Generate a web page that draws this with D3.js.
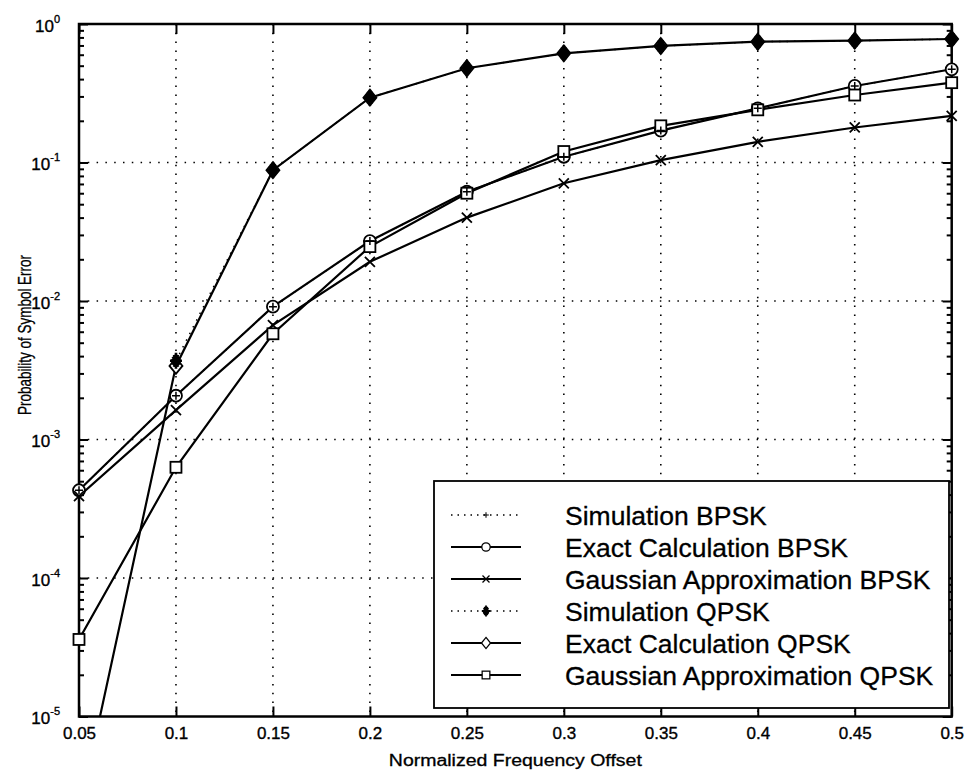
<!DOCTYPE html>
<html lang="en">
<head>
    <meta charset="UTF-8">
    <title>Probability of Symbol Error vs Normalized Frequency Offset</title>
    <script src="https://d3js.org/d3.v7.min.js"></script>
    <style>
        body { margin: 0; background: #fff; }
        svg { font-family: "Liberation Sans", Arial, sans-serif; }
        .tick text { fill: #000; }
    </style>
</head>
<body>
    <div id="chart"></div>
    <script>
        // Data
        const offsets = [0.05, 0.1, 0.15, 0.2, 0.25, 0.3, 0.35, 0.4, 0.45, 0.5];
        const simBPSK   = [4.3e-4, 2.07e-3, 9.1e-3, 0.0271, 0.0615, 0.110, 0.170, 0.246, 0.357, 0.471];
        const exactBPSK = [4.3e-4, 2.07e-3, 9.1e-3, 0.0271, 0.0615, 0.110, 0.170, 0.246, 0.357, 0.471];
        const gaussBPSK = [3.9e-4, 1.63e-3, 6.7e-3, 0.0192, 0.040, 0.0708, 0.104, 0.141, 0.179, 0.217];
        const simQPSK   = [null, 3.7e-3, 0.088, 0.294, 0.479, 0.614, 0.694, 0.745, 0.758, 0.779];
        const exactQPSK = [2e-6, 3.4e-3, 0.088, 0.294, 0.479, 0.614, 0.694, 0.745, 0.758, 0.779];
        const gaussQPSK = [3.6e-5, 6.3e-4, 5.8e-3, 0.0247, 0.060, 0.120, 0.184, 0.240, 0.307, 0.377];

        const seriesNames = ["Simulation BPSK", "Exact Calculation BPSK", "Gaussian Approximation BPSK",
                             "Simulation QPSK", "Exact Calculation QPSK", "Gaussian Approximation QPSK"];
        const seriesValues = [simBPSK, exactBPSK, gaussBPSK, simQPSK, exactQPSK, gaussQPSK];
        const seriesMarkers = ["plus", "circle", "x", "star", "diamond", "square"];
        const seriesDotted = [true, false, false, true, false, false];

        const xTicks = [0.05, 0.1, 0.15, 0.2, 0.25, 0.3, 0.35, 0.4, 0.45, 0.5];
        const xTickLabels = ["0.05", "0.1", "0.15", "0.2", "0.25", "0.3", "0.35", "0.4", "0.45", "0.5"];
        const yTicks = [1e-5, 1e-4, 1e-3, 1e-2, 1e-1, 1];
        const yTickExps = ["-5", "-4", "-3", "-2", "-1", "0"];

        // Layout
        const W = 967, H = 771;
        const margin = {top: 24, right: 15.3, bottom: 54.5, left: 79};
        const width = W - margin.left - margin.right;
        const height = H - margin.top - margin.bottom;

        const x = d3.scaleLinear().domain([0.05, 0.5]).range([0, width]);
        const y = d3.scaleLog().domain([1e-5, 1]).range([height, 0]);

        const svg = d3.select("#chart").append("svg")
            .attr("width", W)
            .attr("height", H);

        const g = svg.append("g")
            .attr("transform", `translate(${margin.left},${margin.top})`);

        svg.append("defs").append("clipPath")
            .attr("id", "plotClip")
            .append("rect")
            .attr("x", 0).attr("y", 0)
            .attr("width", width).attr("height", height);

        // Dotted grid
        const grid = g.append("g").attr("stroke", "#000").attr("stroke-width", 1.6)
            .attr("stroke-dasharray", "1.5,7.3");
        grid.selectAll(".gx").data(xTicks.slice(1, -1)).join("line")
            .attr("x1", d => x(d)).attr("x2", d => x(d))
            .attr("y1", 0).attr("y2", height);
        grid.selectAll(".gy").data(yTicks.slice(1, -1)).join("line")
            .attr("x1", 0).attr("x2", width)
            .attr("y1", d => y(d)).attr("y2", d => y(d));

        // Minor log ticks
        const minorTicks = [];
        for (let e = -5; e < 0; e++) {
            for (let m = 2; m <= 9; m++) minorTicks.push(m * Math.pow(10, e));
        }

        // Axes (ticks pointing inward, like MATLAB)
        const xAxis = g.append("g")
            .attr("transform", `translate(0,${height})`)
            .call(d3.axisBottom(x).tickValues(xTicks).tickSize(-10).tickPadding(10)
                .tickFormat((d, i) => xTickLabels[i]));
        g.append("g")
            .call(d3.axisTop(x).tickValues(xTicks).tickSize(-10).tickFormat(""));
        const yAxis = g.append("g")
            .call(d3.axisLeft(y).tickValues(yTicks).tickSize(-9).tickPadding(20)
                .tickFormat(""));
        g.append("g")
            .attr("transform", `translate(${width},0)`)
            .call(d3.axisRight(y).tickValues(yTicks).tickSize(-9).tickFormat(""));
        g.append("g")
            .call(d3.axisLeft(y).tickValues(minorTicks).tickSize(-5).tickFormat(""));
        g.append("g")
            .attr("transform", `translate(${width},0)`)
            .call(d3.axisRight(y).tickValues(minorTicks).tickSize(-5).tickFormat(""));

        g.selectAll(".domain").remove();
        g.selectAll(".tick line").attr("stroke", "#000").attr("stroke-width", 2);

        xAxis.selectAll(".tick text")
            .attr("font-size", 17)
            .attr("stroke", "#000")
            .attr("stroke-width", 0.35)
            .attr("font-family", "Liberation Sans, Arial, sans-serif");

        // y tick labels: 10 with superscript exponent
        yAxis.selectAll(".tick").each(function (d, i) {
            const t = d3.select(this).append("text")
                .attr("x", -19)
                .attr("y", 7)
                .attr("text-anchor", "end")
                .attr("fill", "#000")
                .attr("stroke", "#000")
                .attr("stroke-width", 0.35)
                .attr("font-size", 17)
                .attr("font-family", "Liberation Sans, Arial, sans-serif");
            t.append("tspan").text("10");
            t.append("tspan").attr("dy", -9).attr("font-size", 11).text(yTickExps[i]);
        });

        // Axis box
        g.append("rect")
            .attr("width", width).attr("height", height)
            .attr("fill", "none").attr("stroke", "#000").attr("stroke-width", 2.5);

        // Axis labels
        svg.append("text")
            .attr("x", margin.left + width / 2)
            .attr("y", 766)
            .attr("text-anchor", "middle")
            .attr("font-size", 16)
            .attr("stroke", "#000")
            .attr("stroke-width", 0.3)
            .attr("textLength", 253)
            .attr("lengthAdjust", "spacingAndGlyphs")
            .text("Normalized Frequency Offset");
        svg.append("text")
            .attr("transform", `translate(31,335) rotate(-90)`)
            .attr("text-anchor", "middle")
            .attr("font-size", 18)
            .attr("stroke", "#000")
            .attr("stroke-width", 0.3)
            .attr("textLength", 160)
            .attr("lengthAdjust", "spacingAndGlyphs")
            .text("Probability of Symbol Error");

        // Marker drawing
        function drawMarker(sel, type, cx, cy, s = 1) {
            const m = sel.append("g").attr("transform", `translate(${cx},${cy}) scale(${s})`)
                .attr("stroke", "#000").attr("fill", "none").attr("stroke-width", 1.8);
            if (type === "circle") {
                m.append("circle").attr("r", 6).attr("fill", "#fff");
            } else if (type === "square") {
                m.append("rect").attr("x", -5.5).attr("y", -5.5).attr("width", 11).attr("height", 11)
                    .attr("fill", "#fff");
            } else if (type === "diamond") {
                m.append("path").attr("d", "M0,-8 L6.5,0 L0,8 L-6.5,0 Z").attr("fill", "#fff");
            } else if (type === "x") {
                m.append("path").attr("d", "M-5,-5 L5,5 M-5,5 L5,-5");
            } else if (type === "plus") {
                m.append("path").attr("d", "M-4,0 L4,0 M0,-4 L0,4").attr("stroke-width", 1.5);
            } else if (type === "star") {
                m.append("path")
                    .attr("d", "M-6,0 L6,0 M0,-8 L0,8 M-3.5,-4 L3.5,4 M-3.5,4 L3.5,-4 M-2,-6 L2,6 M-2,6 L2,-6 M-4.5,-2 L4.5,2 M-4.5,2 L4.5,-2")
                    .attr("stroke-width", 2.6);
            }
        }

        const line = d3.line()
            .defined(d => d.v != null)
            .x(d => x(d.x))
            .y(d => y(d.v));

        // Draw order: dotted simulation lines under the solid ones
        const drawOrder = [4, 1, 2, 5, 0, 3];
        const plot = g.append("g");
        drawOrder.forEach(k => {
            const pts = offsets.map((o, i) => ({x: o, v: seriesValues[k][i]}));
            plot.append("path")
                .datum(pts)
                .attr("clip-path", "url(#plotClip)")
                .attr("fill", "none")
                .attr("stroke", "#000")
                .attr("stroke-width", seriesDotted[k] ? 1.5 : 2.2)
                .attr("stroke-dasharray", seriesDotted[k] ? "1.5,6" : null)
                .attr("d", line);
        });
        drawOrder.forEach(k => {
            offsets.forEach((o, i) => {
                const v = seriesValues[k][i];
                if (v == null || v < 1e-5) return;
                drawMarker(plot, seriesMarkers[k], x(o), y(v));
            });
        });

        // Legend
        const legend = svg.append("g");
        legend.append("rect")
            .attr("x", 434).attr("y", 481)
            .attr("width", 515).attr("height", 227)
            .attr("fill", "#fff").attr("stroke", "#000").attr("stroke-width", 1.8);
        seriesNames.forEach((name, k) => {
            const cy = 515 + k * 32;
            legend.append("line")
                .attr("x1", 451).attr("x2", 521)
                .attr("y1", cy).attr("y2", cy)
                .attr("stroke", "#000")
                .attr("stroke-width", seriesDotted[k] ? 1.3 : 2)
                .attr("stroke-dasharray", seriesDotted[k] ? "1.5,5" : null);
            drawMarker(legend, seriesMarkers[k], 486, cy, 0.7);
            legend.append("text")
                .attr("x", 565).attr("y", cy + 9.5)
                .attr("font-size", 26.5)
                .attr("stroke", "#000")
                .attr("stroke-width", 0.3)
                .text(name);
        });
    </script>
</body>
</html>
